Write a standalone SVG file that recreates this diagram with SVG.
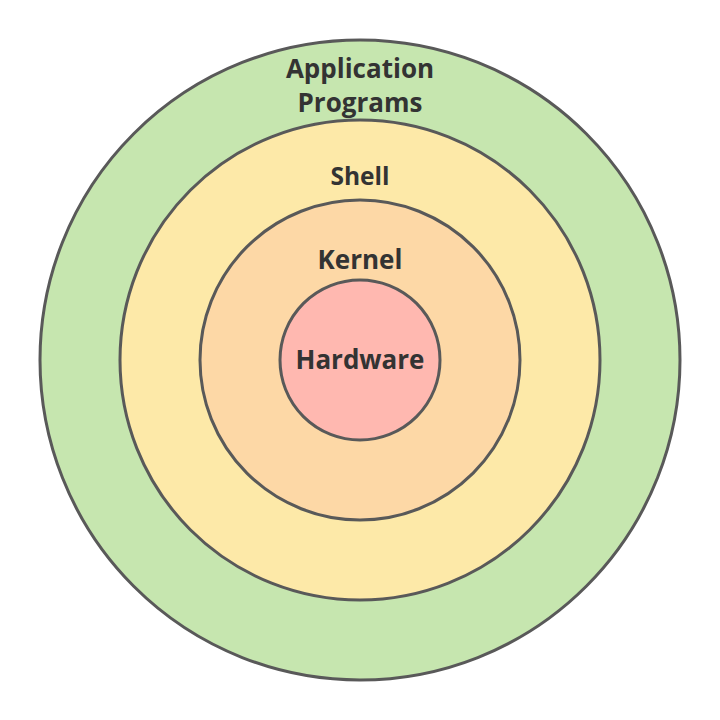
<svg xmlns="http://www.w3.org/2000/svg" width="720" height="720" viewBox="0 0 720 720">
<style>
.ring{stroke:#595959;stroke-width:3}
.lbl{font-family:"Open Sans","Liberation Sans",sans-serif;font-weight:bold;fill:#333;text-anchor:middle;font-size:26px}
</style>
<rect width="720" height="720" fill="#fff"/>
<g id="apps"><circle class="ring" cx="360" cy="360" r="320" fill="#c6e6af"/>
<text class="lbl" x="360" y="78">Application</text>
<text class="lbl" x="360" y="112">Programs</text></g>
<g id="shell"><circle class="ring" cx="360" cy="360" r="240" fill="#fde9a8"/>
<text class="lbl" x="360" y="185" style="font-size:24.5px">Shell</text></g>
<g id="kernel"><circle class="ring" cx="360" cy="360" r="160" fill="#fdd8a6"/>
<text class="lbl" x="360" y="269">Kernel</text></g>
<g id="hardware"><circle class="ring" cx="360" cy="360" r="80" fill="#ffb8b0"/>
<text class="lbl" x="360" y="369">Hardware</text></g>
<g id="connectors"/>
</svg>
